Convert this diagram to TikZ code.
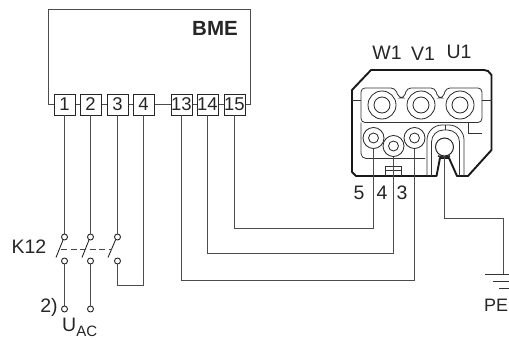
\documentclass[tikz,border=0pt]{standalone}
\usepackage{fontspec}
\setmainfont{Liberation Sans}
\tikzset{
  wire/.style={draw=black!70,line width=1.1pt},
  term/.style={draw=black!85,fill=white,line width=0.9pt,minimum width=21pt,minimum height=21pt,inner sep=0pt,font=\fontsize{18.5}{18.5}\selectfont,text=black!85},
  contact/.style={circle,draw=black!85,fill=white,line width=0.9pt,minimum size=6pt,inner sep=0pt},
  lbl/.style={inner sep=0pt,font=\fontsize{19.5}{19.5}\selectfont,text=black!85},
  body/.style={draw=black!80,line width=0.8pt},
  thick outline/.style={draw=black!90,line width=1.9pt,line join=round},
  pin/.style={circle,draw=black!85,fill=white,line width=0.8pt,inner sep=0pt}
}
\begin{document}
\begin{tikzpicture}[x=1pt,y=-1pt]
\useasboundingbox (0,0) rectangle (509,340);
\fill[white] (0,0) rectangle (509,340);
% BME box
\draw[wire] (54,104.5) -- (48.5,104.5) -- (48.5,9.5) -- (250.5,9.5) -- (250.5,104.5) -- (245,104.5);
\node[lbl,font=\fontsize{20.5}{20.5}\selectfont\bfseries] (bme) at (215,28) {BME};
\draw[wire] (54,104.5) -- (245,104.5);
\node[term] (t1) at (64.5,104.5) {1};
\node[term] (t2) at (90.5,104.5) {2};
\node[term] (t3) at (117.5,104.5) {3};
\node[term] (t4) at (143.5,104.5) {4};
\node[term] (t13) at (181.5,104.5) {13};
\node[term] (t14) at (207.5,104.5) {14};
\node[term] (t15) at (234.5,104.5) {15};
% switch
\node[contact] (a1) at (64.5,237) {};
\node[contact] (a2) at (90.5,237) {};
\node[contact] (a3) at (117.5,237) {};
\node[contact] (b1) at (64.5,261) {};
\node[contact] (b2) at (90.5,261) {};
\node[contact] (b3) at (117.5,261) {};
\node[contact] (c1) at (64.5,309) {};
\node[contact] (c2) at (90.5,309) {};
\coordinate (p4) at (143.5,285.5);
\coordinate (p3) at (117.5,285.5);
\draw[wire] (t1) -- (a1);
\draw[wire] (t2) -- (a2);
\draw[wire] (t3) -- (a3);
\draw[wire] (b1) -- (c1);
\draw[wire] (b2) -- (c2);
\draw[wire] (b3) -- (p3) -- (p4) -- (t4);
\draw[black!85,line width=0.9pt] (56,257.5) -- (63,240);
\draw[black!85,line width=0.9pt] (82,257.5) -- (89,240);
\draw[black!85,line width=0.9pt] (108,257.5) -- (115.5,240);
\draw[black!72,line width=0.9pt,dash pattern=on 6pt off 3.5pt] (61,249) -- (112,249);
\node[lbl] (k12) at (29,247) {K12};
\node[lbl] (two) at (49,307) {2)};
\node[lbl,anchor=west] (uac) at (62,327) {U\raisebox{-5pt}{\fontsize{15}{15}\selectfont AC}};
% connector body
\draw[thick outline,fill=white] (352,90) -- (371,70) -- (484,70) -- (488,71) -- (491.5,75) -- (491.5,150) -- (468,176) -- (457,176) -- (449,158) -- (440,158) -- (436.5,176) -- (356,176) -- (352,172) -- cycle;
% upper chamber
\draw[body,rounded corners=4pt] (361,122.5) -- (361,88) -- (395,88) -- (399,98) -- (404,98) -- (407,88) -- (435,88) -- (438,98) -- (443,98) -- (446,88) -- (482,88) -- (482,122.5) -- cycle;
\draw[body] (352,100) -- (361,100);
\draw[body] (482,100) -- (491.5,100);
\node[pin,minimum size=28pt] (w1o) at (382,105) {};
\node[pin,minimum size=16pt] (w1i) at (382,105) {};
\node[pin,minimum size=28pt] (v1o) at (421,105) {};
\node[pin,minimum size=16pt] (v1i) at (421,105) {};
\node[pin,minimum size=28pt] (u1o) at (460,105) {};
\node[pin,minimum size=16pt] (u1i) at (460,105) {};
% lower chamber
\draw[body,rounded corners=5pt] (361,122.5) -- (361,158.5) -- (425,158.5);
\draw[body] (468,122.5) -- (468,133) -- (482,133);
\draw[body] (385,166) -- (385,176);
\draw[body] (401,166) -- (401,176);
\draw[body] (385,166) -- (401,166);
\draw[body] (385,170) -- (401,170);
% PE socket
\draw[body,rounded corners=15pt] (427,176) -- (427,125) -- (464,125) -- (464,176);
\draw[body,rounded corners=12pt] (431.5,176) -- (431.5,130) -- (459.5,130) -- (459.5,176);
\draw[body] (445,125) -- (445,130);
\node[pin,line width=1pt,minimum size=18pt] (pe) at (444.5,147) {};
\draw[black!85,line width=1.6pt] (438,156) to[bend right=20] (450,156);
\node[pin,minimum size=21pt] (s5o) at (373.5,138) {};
\node[pin,minimum size=10pt] (s5i) at (373.5,138) {};
\node[pin,minimum size=21pt] (s3o) at (414.5,138) {};
\node[pin,minimum size=10pt] (s3i) at (414.5,138) {};
\node[pin,minimum size=21pt] (s4o) at (393.5,146) {};
\node[pin,minimum size=10pt] (s4i) at (393.5,146) {};
% connector labels
\node[lbl] (lw1) at (387,53) {W1};
\node[lbl] (lv1) at (423,54) {V1};
\node[lbl] (lu1) at (459,52) {U1};
\node[lbl] (l5) at (359,193) {5};
\node[lbl] (l4) at (382,193) {4};
\node[lbl] (l3) at (402,193) {3};
% long wires
\coordinate (e15) at (234.5,228.5);
\coordinate (f15) at (373.5,228.5);
\coordinate (e14) at (207.5,253.5);
\coordinate (f14) at (393.5,253.5);
\coordinate (e13) at (181.5,280.5);
\coordinate (f13) at (414.5,280.5);
\draw[wire] (t15) -- (e15) -- (f15) -- (s5o.south);
\draw[wire] (t14) -- (e14) -- (f14) -- (s4o.south);
\draw[wire] (t13) -- (e13) -- (f13) -- (s3o.south);
% earth
\coordinate (g1) at (444.5,218.5);
\coordinate (g2) at (503.5,218.5);
\coordinate (g3) at (503.5,274);
\draw[wire] (pe.south) -- (g1) -- (g2) -- (g3);
\draw[black!80,line width=0.9pt] (485,274) -- (509,274);
\draw[black!80,line width=0.9pt] (493,281) -- (509,281);
\draw[black!80,line width=0.9pt] (499,288) -- (509,288);
\node[lbl,anchor=west,font=\fontsize{18}{18}\selectfont] (lpe) at (484,305) {PE};
\end{tikzpicture}
\end{document}
